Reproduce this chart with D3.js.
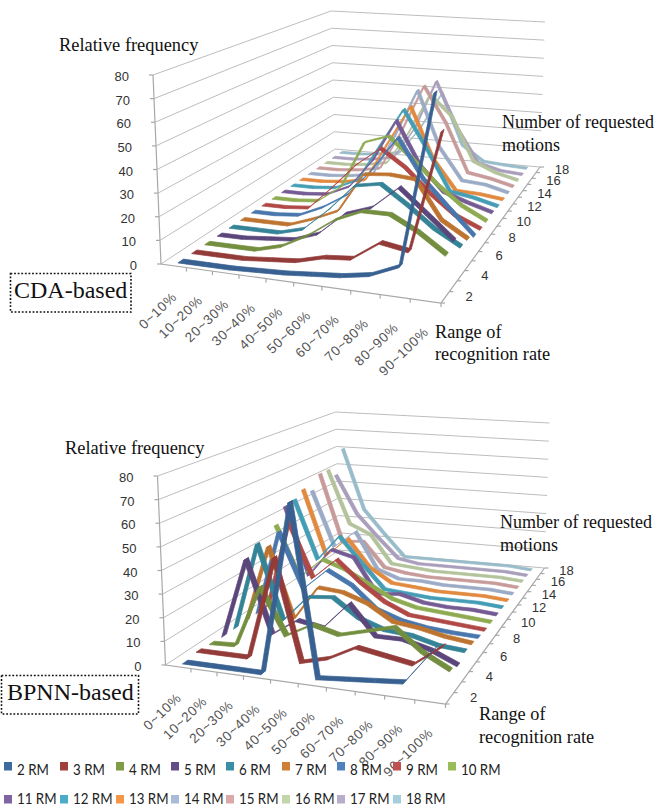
<!DOCTYPE html>
<html>
<head>
<meta charset="utf-8">
<script src="https://cdnjs.cloudflare.com/ajax/libs/d3/7.8.5/d3.min.js"></script>
<style>
  html, body { margin: 0; padding: 0; background: #fff; }
  svg { display: block; }
</style>
</head>
<body>
<div class="canvas"></div>
<script>
// chart data, one row per series, one column per range
const categories = ['0~10%', '10~20%', '20~30%', '30~40%', '40~50%', '50~60%', '60~70%', '70~80%', '80~90%', '90~100%'];
const seriesNames = ['2 RM', '3 RM', '4 RM', '5 RM', '6 RM', '7 RM', '8 RM', '9 RM', '10 RM', '11 RM', '12 RM', '13 RM', '14 RM', '15 RM', '16 RM', '17 RM', '18 RM'];
const valueTicks = [0, 10, 20, 30, 40, 50, 60, 70, 80];
const depthTicks = [2, 4, 6, 8, 10, 12, 14, 16, 18];

const cdaValues = [
    [0, 0, 0, 0.5, 1, 2, 3, 5, 10, 80],
    [0, 0, 0, 1, 2, 5, 6, 14, 12, 62],
    [0, 0, 0, 3, 9, 17, 22, 22, 16, 8],
    [0, 0, 1, 2, 6, 16, 20, 30, 20, 10],
    [0, 0, 0, 3, 13, 25, 27, 19, 10, 3.5],
    [0, 0, 0, 4, 9, 27, 28, 27, 10, 3],
    [0, 0, 1, 6, 13, 26, 42, 24, 12, 0.5],
    [0, 0, 1, 12, 24, 33, 25, 14, 5, 0],
    [0, 0, 1, 9, 32, 36, 26, 15, 6, 0],
    [0, 0, 1, 6, 20, 41, 20, 8, 4, 0.5],
    [0, 0, 1, 6, 25, 44, 25, 5, 3, 0],
    [0, 0, 1, 3, 23, 43, 17, 2, 1.5, 0],
    [0, 0, 1, 3, 24, 49, 20, 4, 3, 0],
    [0, 0, 1, 3, 24, 49, 30, 5, 3, 0],
    [0, 0, 1, 3, 20, 42, 31, 8, 3, 0],
    [0, 0, 1, 3, 20, 47, 22, 4, 1, 0],
    [0, 0, 1, 3, 18, 38, 10, 2, 1, 0.3]
];

const bpnnValues = [
    [0, 0, 0, 0, 72, 1, 2, 3, 4, 19],
    [1, 1, 1, 45, 2, 5, 11, 9, 7, 16],
    [0.5, 1, 28, 8, 14, 11, 14, 17, 8, 2],
    [0, 36, 3.5, 11, 9, 21, 8, 8, 5, 0],
    [0, 40, 6, 18, 19, 11, 7, 6, 3, 2],
    [0, 36, 3, 19, 18, 14, 7, 5.5, 3, 1.5],
    [0, 40, 14, 24, 18, 8, 4, 2, 1, 0.5],
    [0, 42, 16, 26, 16, 8, 3, 2, 1, 0],
    [37, 12, 22, 18, 12, 6, 3, 2, 1, 0],
    [44, 10, 24, 21, 4, 5, 2, 1, 1, 0],
    [45, 15, 28, 15, 3, 2, 1, 1, 1, 0],
    [48, 14, 24, 10, 3, 2, 1, 1, 1, 0],
    [45, 16, 25, 6, 2, 2, 1, 1, 1, 0],
    [52, 16, 17, 4, 2, 1, 1, 1, 1, 0],
    [52, 23, 18, 3, 2, 1, 1, 1, 1, 0],
    [47, 26, 14, 3, 1, 1, 1, 1, 1, 0],
    [60, 26, 13, 1, 1, 1, 1, 1, 1, 0]
];

const seriesColors = ['#3d6a9f', '#a0403d', '#7e9b45', '#644d87', '#398fa5', '#d07f36', '#4f81bd', '#c0504d', '#9bbb59', '#8064a2', '#4bacc6', '#f79646', '#aabbd9', '#daa9a8', '#c4d5a9', '#b9adcc', '#a6cedd'];

const svg = d3.select('.canvas')
    .append('svg')
    .attr('width', 654)
    .attr('height', 808);

// maps the unit square onto a four sided shape on the page
function quadMap(p0, p1, p2, p3) {
    const dx1 = p1[0] - p2[0], dx2 = p3[0] - p2[0], sx = p0[0] - p1[0] + p2[0] - p3[0];
    const dy1 = p1[1] - p2[1], dy2 = p3[1] - p2[1], sy = p0[1] - p1[1] + p2[1] - p3[1];
    const det = dx1 * dy2 - dx2 * dy1;
    const g = (sx * dy2 - dx2 * sy) / det;
    const h = (dx1 * sy - sx * dy1) / det;
    const a = p1[0] - p0[0] + g * p1[0], b = p3[0] - p0[0] + h * p3[0];
    const d = p1[1] - p0[1] + g * p1[1], e = p3[1] - p0[1] + h * p3[1];
    return (u, v) => {
        const w = g * u + h * v + 1;
        return [(a * u + b * v + p0[0]) / w, (d * u + e * v + p0[1]) / w];
    };
}

// corners of the floor and of the plane at value 80, excel-style box
const floorMap = quadMap([161, 264], [441, 303], [540, 167], [335, 149]);
const topMap = quadMap([153, 75], [447, 96], [545, 22], [331, 11]);

const xScale = d3.scaleLinear().domain([0, categories.length]).range([0, 1]);
const zScale = d3.scaleLinear().domain([0, seriesNames.length]).range([0, 1]);
const yScale = d3.scaleLinear().domain([0, 80]).range([0, 1]);

// category position, series position and value to page position
const project = (cat, ser, val) => {
    const f = floorMap(xScale(cat), zScale(ser));
    const t = topMap(xScale(cat), zScale(ser));
    const k = yScale(val);
    return [f[0] + (t[0] - f[0]) * k, f[1] + (t[1] - f[1]) * k];
};

const line = d3.line();
const ribbon = 0.2;   // half depth of a line ribbon, in series units

function drawChart(offsetX, offsetY, values) {
    const graph = svg.append('g')
        .attr('transform', `translate(${offsetX},${offsetY})`);
    const nCat = categories.length, nSer = seriesNames.length;

    // grid on the two back walls
    graph.append('g').selectAll('path')
        .data(valueTicks)
        .enter().append('path')
        .attr('d', v => line([project(0, 0, v), project(0, nSer, v), project(nCat, nSer, v)]))
        .attr('fill', 'none')
        .attr('stroke', '#bdbdbd')
        .attr('stroke-width', 1);

    // the axes
    const axes = graph.append('g').attr('stroke', '#a8a8a8').attr('fill', 'none').attr('stroke-width', 1.2);
    axes.append('path').attr('d', line([project(0, 0, 80), project(0, 0, 0), project(nCat, 0, 0), project(nCat, nSer, 0)]));
    axes.selectAll('.ytick').data(valueTicks).enter().append('path')
        .attr('d', v => { const p = project(0, 0, v); return line([p, [p[0] - 4, p[1]]]); });
    axes.selectAll('.xtick').data(d3.range(1, nCat + 1)).enter().append('path')
        .attr('d', c => { const p = project(c, 0, 0); return line([p, [p[0], p[1] + 4]]); });
    axes.selectAll('.ztick').data(d3.range(0, nSer + 1)).enter().append('path')
        .attr('d', s => { const p = project(nCat, s, 0); return line([p, [p[0] + 4, p[1]]]); });

    // tick labels
    graph.append('g').selectAll('text')
        .data(valueTicks)
        .enter().append('text')
        .attr('x', v => project(0, 0, v)[0] - 24)
        .attr('y', v => project(0, 0, v)[1] + 6)
        .attr('text-anchor', 'end')
        .attr('font-family', '"Liberation Sans", Arial, sans-serif')
        .attr('font-size', 13)
        .attr('fill', '#333')
        .text(v => v);

    graph.append('g').selectAll('text')
        .data(depthTicks)
        .enter().append('text')
        .attr('x', d => project(nCat, d - 1.5, 0)[0] + 24)
        .attr('y', d => project(nCat, d - 1.5, 0)[1] + 4)
        .attr('text-anchor', 'middle')
        .attr('font-family', '"Liberation Sans", Arial, sans-serif')
        .attr('font-size', 13)
        .attr('fill', '#333')
        .text(d => d);

    graph.append('g').selectAll('text')
        .data(categories)
        .enter().append('text')
        .attr('transform', (c, i) => {
            const p = project(i + 0.5, 0, 0);
            return `translate(${p[0] + 4},${p[1] + 32}) rotate(-44)`;
        })
        .attr('text-anchor', 'end')
        .attr('font-family', '"Liberation Sans", Arial, sans-serif')
        .attr('font-size', 13.5)
        .attr('letter-spacing', 0.8)
        .attr('fill', '#555')
        .text(c => c);

    // series from back to front, every segment is a flat ribbon going into the depth
    d3.range(nSer - 1, -1, -1).forEach(s => {
        const segs = d3.range(0, nCat - 1);
        graph.append('g').selectAll('path')
            .data(segs)
            .enter().append('path')
            .attr('d', i => {
                const z = s + 0.5;
                return line([
                    project(i + 0.5, z - ribbon, values[s][i]),
                    project(i + 1.5, z - ribbon, values[s][i + 1]),
                    project(i + 1.5, z + ribbon, values[s][i + 1]),
                    project(i + 0.5, z + ribbon, values[s][i])
                ]) + 'Z';
            })
            .attr('fill', d3.color(seriesColors[s]).darker(0.25))
            .attr('stroke', d3.color(seriesColors[s]).darker(0.25))
            .attr('stroke-width', 0.7)
            .attr('stroke-linejoin', 'round');
    });
}

drawChart(0, 0, cdaValues);
drawChart(4.5, 401, bpnnValues);

// serif captions
const captions = [
    { x: 59, y: 51, size: 18.4, lines: 'Relative frequency' },
    { x: 502, y: 128, size: 18, lines: 'Number of requested' },
    { x: 502, y: 151, size: 18, lines: 'motions' },
    { x: 435, y: 338, size: 18.3, lines: 'Range of' },
    { x: 435, y: 360, size: 18.3, lines: 'recognition rate' },
    { x: 65, y: 454, size: 18.4, lines: 'Relative frequency' },
    { x: 500, y: 528, size: 18, lines: 'Number of requested' },
    { x: 500, y: 551, size: 18, lines: 'motions' },
    { x: 479, y: 720, size: 18.3, lines: 'Range of' },
    { x: 479, y: 743, size: 18.3, lines: 'recognition rate' },
    { x: 14, y: 298, size: 24, lines: 'CDA-based' },
    { x: 7, y: 700, size: 24, lines: 'BPNN-based' }
];
svg.append('g').selectAll('text')
    .data(captions)
    .enter().append('text')
    .attr('x', d => d.x)
    .attr('y', d => d.y)
    .attr('font-family', '"Liberation Serif", "Times New Roman", serif')
    .attr('font-size', d => d.size)
    .attr('fill', '#111')
    .text(d => d.lines);

// dotted boxes around the method names
svg.append('g').selectAll('rect')
    .data([[10.5, 273.5, 120.5, 38.5], [1.5, 675.5, 137, 38.5]])
    .enter().append('rect')
    .attr('x', d => d[0]).attr('y', d => d[1])
    .attr('width', d => d[2]).attr('height', d => d[3])
    .attr('fill', 'none')
    .attr('stroke', '#111')
    .attr('stroke-width', 1.6)
    .attr('stroke-dasharray', '1.8 1.8');

// legend, nine in the first row and eight in the second
const legendX = [4, 60, 116, 171, 226, 282, 337, 393, 448];
const legend = svg.append('g').selectAll('g')
    .data(seriesNames)
    .enter().append('g')
    .attr('transform', (d, i) => `translate(${legendX[i % 9]},${i < 9 ? 762 : 795})`);
legend.append('rect')
    .attr('width', 8).attr('height', 8.5)
    .attr('fill', (d, i) => seriesColors[i]);
legend.append('text')
    .attr('transform', (d, i) => `translate(13,${i < 9 ? 13 : 9}) scale(0.86,1)`)
    .attr('font-family', 'Lato, sans-serif')
    .attr('font-size', 15.5)
    .attr('fill', '#222')
    .text(d => d);
</script>
</body>
</html>
